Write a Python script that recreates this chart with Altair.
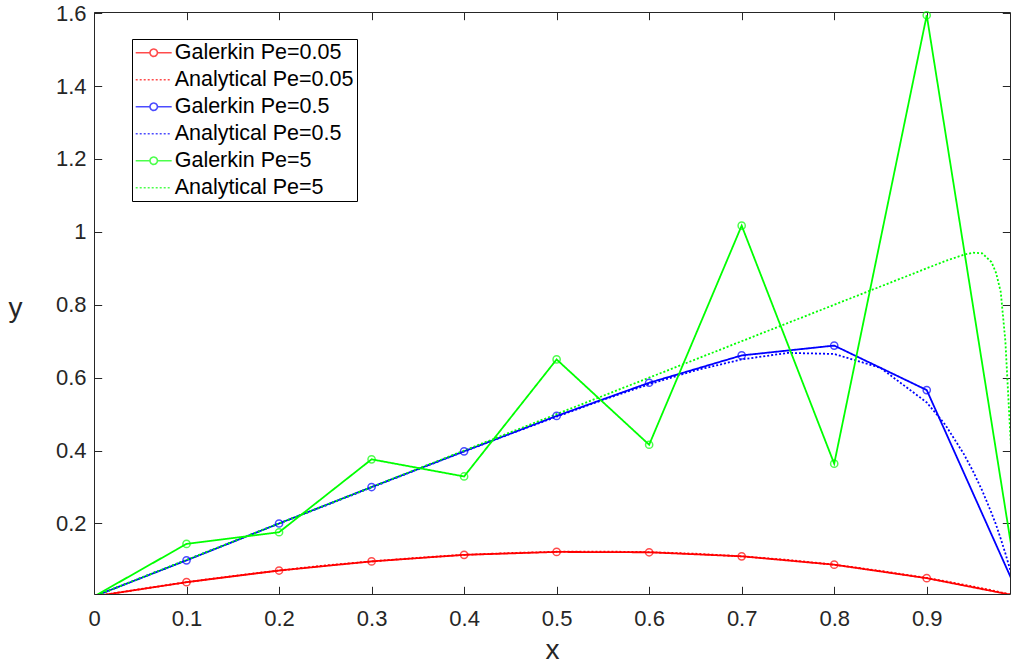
import altair as alt
import pandas as pd

# ---------------- data ----------------
x_nodes = [0.0, 0.1, 0.2, 0.3, 0.4, 0.5, 0.6, 0.7, 0.8, 0.9, 1.0]
galerkin_005 = [0.0, 0.039, 0.071, 0.096, 0.114, 0.122, 0.121, 0.110, 0.087, 0.050, 0.0]
galerkin_05 = [0.0, 0.099, 0.200, 0.300, 0.398, 0.495, 0.586, 0.661, 0.688, 0.566, 0.0]
galerkin_5 = [0.0, 0.144, 0.176, 0.376, 0.329, 0.650, 0.416, 1.017, 0.364, 1.594, 0.0]

x_exact = [0.0, 0.05, 0.1, 0.15, 0.2, 0.25, 0.3, 0.35, 0.4, 0.45,
           0.5, 0.55, 0.6, 0.65, 0.7, 0.75, 0.8, 0.85, 0.9,
           0.92, 0.94, 0.95, 0.96, 0.97, 0.975, 0.98, 0.985, 0.99, 1.0]
exact_005 = [0.0, 0.020, 0.039, 0.056, 0.071, 0.085, 0.096, 0.106, 0.114, 0.119,
             0.1225, 0.123, 0.1215, 0.117, 0.110, 0.100, 0.087, 0.070, 0.0505,
             0.0416, 0.032, 0.027, 0.022, 0.017, 0.014, 0.011, 0.0085, 0.0057, 0.0]
exact_05 = [0.0, 0.05, 0.1, 0.15, 0.2, 0.249, 0.299, 0.3485, 0.3975, 0.446,
            0.493, 0.539, 0.582, 0.620, 0.650, 0.668, 0.665, 0.627, 0.532,
            0.471, 0.391, 0.3435, 0.290, 0.229, 0.196, 0.158, 0.118, 0.075, 0.0]
exact_5 = [0.0, 0.05, 0.1, 0.15, 0.2, 0.25, 0.3, 0.35, 0.4, 0.45,
           0.5, 0.55, 0.6, 0.65, 0.7, 0.75, 0.8, 0.85, 0.9,
           0.92, 0.937, 0.943, 0.941, 0.917, 0.887, 0.835, 0.70, 0.46, 0.0]

names = ["Galerkin Pe=0.05", "Analytical Pe=0.05",
         "Galerkin Pe=0.5", "Analytical Pe=0.5",
         "Galerkin Pe=5", "Analytical Pe=5"]
colors = ["#ff0000", "#ff0000", "#0000ff", "#0000ff", "#00ff00", "#00ff00"]
dashes = [[1, 0], [2, 2], [1, 0], [2, 2], [1, 0], [2, 2]]

x_ticks = [0, 0.1, 0.2, 0.3, 0.4, 0.5, 0.6, 0.7, 0.8, 0.9]
y_ticks = [0.2, 0.4, 0.6, 0.8, 1.0, 1.2, 1.4, 1.6]

# legend sample symbols (line with marker / dotted line)
SYM_MARKER = "M-1,0H0.43M1.17,0H2.6M1.17,0A0.37,0.37 0 1 1 0.43,0A0.37,0.37 0 1 1 1.17,0"
SYM_LINE = "M-1,0H2.6"
legend_shapes = [SYM_MARKER, SYM_LINE, SYM_MARKER, SYM_LINE, SYM_MARKER, SYM_LINE]

# ---------------- tables ----------------
rows = []
series = [(names[0], x_nodes, galerkin_005), (names[1], x_exact, exact_005),
          (names[2], x_nodes, galerkin_05), (names[3], x_exact, exact_05),
          (names[4], x_nodes, galerkin_5), (names[5], x_exact, exact_5)]
for k, (nm, xs, ys) in enumerate(series):
    for i, (xv, yv) in enumerate(zip(xs, ys)):
        rows.append({"x": xv, "y": yv, "name": nm, "k": k, "i": i})
df = pd.DataFrame(rows)
df_nodes = df[df["name"].str.startswith("Galerkin")]

F = "Liberation Sans"
AX = "#262626"
X_DOMAIN = [0, 0.99]
Y_DOMAIN = [0.0066, 1.603]

xscale = alt.Scale(domain=X_DOMAIN, nice=False, zero=False)
yscale = alt.Scale(domain=Y_DOMAIN, nice=False, zero=False)
color_scale = alt.Scale(domain=names, range=colors)


def make_legend():
    return alt.Legend(
        orient="none", legendX=38, legendY=27, title=None,
        symbolSize=400, symbolStrokeWidth=1.6, symbolFillColor="transparent",
        labelFont=F, labelFontSize=21.5, labelColor="black", labelLimit=500,
        labelOffset=18, rowPadding=5, padding=2.7,
        strokeColor="black", fillColor="white", cornerRadius=0,
    )


x_axis_bottom = alt.Axis(
    values=x_ticks, format="~g", domain=False, grid=False,
    ticks=True, tickSize=7.7, offset=-7.7, tickColor=AX, tickWidth=1,
    labelFont=F, labelFontSize=22, labelColor=AX, labelPadding=14,
    labelFlush=False, labelOverlap=False,
    title="x", titleFont=F, titleFontSize=28, titleFontWeight="normal",
    titleColor=AX, titleY=72, titleBaseline="alphabetic",
)
y_axis_left = alt.Axis(
    values=y_ticks, format="~g", domain=False, grid=False,
    ticks=True, tickSize=7.7, offset=-7.7, tickColor=AX, tickWidth=1,
    labelFont=F, labelFontSize=22, labelColor=AX, labelPadding=8,
    labelFlush=False, labelOverlap=False,
    title="y", titleFont=F, titleFontSize=28, titleFontWeight="normal",
    titleColor=AX, titleAngle=0, titleAlign="center", titleBaseline="alphabetic",
    titleX=-86.7, titleY=304,
)
x_axis_top = alt.Axis(
    orient="top", values=x_ticks, domain=False, grid=False, labels=False,
    ticks=True, tickSize=7.7, offset=-7.7, tickColor=AX, tickWidth=1, title=None,
)
y_axis_right = alt.Axis(
    orient="right", values=y_ticks, domain=False, grid=False, labels=False,
    ticks=True, tickSize=7.7, offset=-7.7, tickColor=AX, tickWidth=1, title=None,
)

lines = alt.Chart(df).mark_line(clip=True, strokeWidth=1.8, strokeCap="butt").encode(
    x=alt.X("x:Q", scale=xscale, axis=x_axis_bottom),
    y=alt.Y("y:Q", scale=yscale, axis=y_axis_left),
    color=alt.Color("name:N", scale=color_scale, legend=make_legend()),
    strokeDash=alt.StrokeDash("name:N", scale=alt.Scale(domain=names, range=dashes),
                              legend=make_legend()),
    order=alt.Order("i:Q"),
)

# markers are only drawn where their centre lies inside the axes
points = alt.Chart(df_nodes).transform_filter(
    f"datum.y >= {Y_DOMAIN[0]} && datum.x <= {X_DOMAIN[1]}"
).mark_point(
    shape="circle", filled=False, size=52, strokeWidth=1.5, clip=False
).encode(
    x=alt.X("x:Q", scale=xscale, axis=x_axis_top),
    y=alt.Y("y:Q", scale=yscale, axis=y_axis_right),
    stroke=alt.Stroke("name:N",
                      scale=alt.Scale(domain=[names[0], names[2], names[4]],
                                      range=[colors[0], colors[2], colors[4]]),
                      legend=None),
)

# carries the legend symbol shapes only (draws no data)
legend_layer = alt.Chart(df).transform_filter("datum.x > 5").mark_point(
    filled=False
).encode(
    x=alt.X("x:Q", scale=xscale, axis=None),
    y=alt.Y("y:Q", scale=yscale, axis=None),
    color=alt.Color("name:N", scale=color_scale, legend=make_legend()),
    shape=alt.Shape("name:N", scale=alt.Scale(domain=names, range=legend_shapes),
                    legend=make_legend()),
)

chart = (
    alt.layer(lines, points, legend_layer)
    .resolve_axis(x="independent", y="independent")
    .properties(
        width=916, height=582,
        autosize=alt.AutoSizeParams(type="none"),
        padding={"left": 94, "top": 12, "right": 1, "bottom": 70},
        background="white",
    )
    .configure_view(stroke=AX, strokeWidth=1)
)

chart.save("out.html", embed_options={"renderer": "svg", "actions": False})
